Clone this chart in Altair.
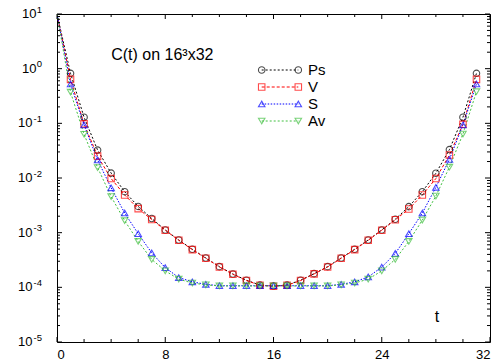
import altair as alt
import pandas as pd

# ---------------- data ----------------
t = list(range(32))
ps = [10, 0.822, 0.129, 0.0324, 0.0123, 0.00562, 0.00302, 0.00182, 0.00112, 7.35e-4,
      4.97e-4, 3.44e-4, 2.39e-4, 1.75e-4, 1.35e-4, 1.10e-4, 1.06e-4, 1.10e-4, 1.35e-4, 1.78e-4,
      2.39e-4, 3.44e-4, 4.97e-4, 7.35e-4, 1.12e-3, 1.76e-3, 2.99e-3, 5.62e-3, 0.0122, 0.0331,
      0.129, 0.822]
v = [10, 0.638, 0.0977, 0.0251, 0.00977, 0.0049, 0.00275, 0.00174, 0.00111, 7.25e-4,
     4.9e-4, 3.4e-4, 2.36e-4, 1.73e-4, 1.33e-4, 1.09e-4, 1.05e-4, 1.09e-4, 1.33e-4, 1.76e-4,
     2.36e-4, 3.4e-4, 4.9e-4, 7.25e-4, 1.11e-3, 1.72e-3, 2.71e-3, 4.9e-3, 9.77e-3, 0.0263,
     0.0959, 0.638]
s = [10, 0.525, 0.0933, 0.0214, 0.00661, 0.00229, 9.55e-4, 4.27e-4, 2.29e-4, 1.51e-4,
     1.26e-4, 1.135e-4, 1.07e-4, 1.07e-4, 1.07e-4, 1.07e-4, 1.07e-4, 1.07e-4, 1.07e-4, 1.07e-4,
     1.07e-4, 1.135e-4, 1.26e-4, 1.55e-4, 2.34e-4, 4.17e-4, 9.55e-4, 2.29e-3, 6.76e-3, 0.0219,
     0.0933, 0.525]
av = [10, 0.372, 0.0631, 0.0155, 0.00457, 0.00166, 6.92e-4, 3.24e-4, 2.0e-4, 1.41e-4,
      1.20e-4, 1.11e-4, 1.06e-4, 1.06e-4, 1.06e-4, 1.06e-4, 1.06e-4, 1.06e-4, 1.06e-4, 1.06e-4,
      1.06e-4, 1.11e-4, 1.20e-4, 1.41e-4, 2.0e-4, 3.24e-4, 6.92e-4, 1.70e-3, 4.68e-3, 0.0158,
      0.0638, 0.38]

series_names = ["Ps", "V", "S", "Av"]
x_major = [0, 8, 16, 24, 32]
x_minor = [2, 4, 6, 10, 12, 14, 18, 20, 22, 26, 28, 30]
y_major = [10, 1, 0.1, 0.01, 0.001, 1e-4, 1e-5]
y_exps = ["1", "0", "-1", "-2", "-3", "-4", "-5"]
y_minor = [m * 10.0 ** k for k in range(-5, 1) for m in range(2, 10)]
title_text = "C(t) on 16³x32"
x_label = "t"

# ---------------- styles ----------------
colors = ["#000000", "#ff0000", "#0000ff", "#40c040"]
shapes = ["circle", "square", "triangle-up", "triangle-down"]
dashes = [[2, 2], [3, 2], [1.5, 1.5], [2, 2]]
FONT = "Liberation Sans"
W, H = 433, 328

rows = []
for name, vals in zip(series_names, [ps, v, s, av]):
    for ti, val in zip(t, vals):
        rows.append({"series": name, "t": ti, "C": val})
df = pd.DataFrame(rows)

xs = alt.Scale(domain=[0, 32], nice=False, zero=False)
ys = alt.Scale(type="log", domain=[1e-5, 10], nice=False)
cs = alt.Scale(domain=series_names, range=colors)

lines = alt.Chart(df).mark_line(clip=True, strokeWidth=1).encode(
    x=alt.X("t:Q", scale=xs, title=None,
            axis=alt.Axis(values=x_major, ticks=False, tickSize=0, domain=False, grid=False,
                          labelFontSize=13, labelPadding=6, labelFont=FONT, labelColor="#000")),
    y=alt.Y("C:Q", scale=ys, axis=None),
    color=alt.Color("series:N", scale=cs, legend=None),
    strokeDash=alt.StrokeDash("series:N", scale=alt.Scale(domain=series_names, range=dashes), legend=None),
    order="t:Q",
)

points = alt.Chart(df).transform_filter("datum.t > 0").mark_point(
    filled=False, size=42, strokeWidth=1.1, clip=True
).encode(
    x=alt.X("t:Q", scale=xs, title=None),
    y=alt.Y("C:Q", scale=ys, axis=None),
    color=alt.Color("series:N", scale=cs, legend=None),
    shape=alt.Shape("series:N", scale=alt.Scale(domain=series_names, range=shapes), legend=None),
)

layers = [lines, points]

# inward ticks on x (bottom and top)
for vals, ln in [(x_major, 5), (x_minor, 3)]:
    d = pd.DataFrame({"t": vals})
    layers.append(alt.Chart(d).mark_rule(color="#000", strokeWidth=1).encode(
        x=alt.X("t:Q", scale=xs, title=None), y=alt.value(H), y2=alt.value(H - ln)))
    layers.append(alt.Chart(d).mark_rule(color="#000", strokeWidth=1).encode(
        x=alt.X("t:Q", scale=xs, title=None), y=alt.value(0), y2=alt.value(ln)))

# inward ticks on y (left and right)
for vals, ln in [(y_major, 5), (y_minor, 3)]:
    d = pd.DataFrame({"C": vals})
    layers.append(alt.Chart(d).mark_rule(color="#000", strokeWidth=1).encode(
        y=alt.Y("C:Q", scale=ys, axis=None), x=alt.value(0), x2=alt.value(ln)))
    layers.append(alt.Chart(d).mark_rule(color="#000", strokeWidth=1).encode(
        y=alt.Y("C:Q", scale=ys, axis=None), x=alt.value(W), x2=alt.value(W - ln)))

# y tick labels: "10" with exponent
ylab = pd.DataFrame({"C": y_major, "exp": y_exps})
layers.append(alt.Chart(ylab).transform_filter("datum.C >= 1").mark_text(
    align="right", baseline="middle", fontSize=13, font=FONT, color="#000").encode(
    y=alt.Y("C:Q", scale=ys, axis=None), x=alt.value(-20.5), text=alt.value("10")))
layers.append(alt.Chart(ylab).transform_filter("datum.C < 1").mark_text(
    align="right", baseline="middle", fontSize=13, font=FONT, color="#000").encode(
    y=alt.Y("C:Q", scale=ys, axis=None), x=alt.value(-24.5), text=alt.value("10")))
layers.append(alt.Chart(ylab).mark_text(
    align="right", baseline="alphabetic", fontSize=9.5, font=FONT, color="#000", dy=-1.5).encode(
    y=alt.Y("C:Q", scale=ys, axis=None), x=alt.value(-15), text="exp:N"))

# legend
one = pd.DataFrame({"k": [0]})
for i, name in enumerate(series_names):
    ly = 56 + 17 * i
    layers.append(alt.Chart(one).mark_rule(color=colors[i], strokeDash=dashes[i], strokeWidth=1).encode(
        x=alt.value(204.7), x2=alt.value(241.3), y=alt.value(ly)))
    for lx in (204.7, 241.3):
        layers.append(alt.Chart(one).mark_point(shape=shapes[i], color=colors[i], filled=False,
                                                size=42, strokeWidth=1.1).encode(
            x=alt.value(lx), y=alt.value(ly)))
    layers.append(alt.Chart(one).mark_text(align="left", baseline="middle", fontSize=15, font=FONT,
                                           color="#000").encode(
        x=alt.value(251), y=alt.value(ly), text=alt.value(name)))

# annotations
layers.append(alt.Chart(one).mark_text(align="center", baseline="alphabetic", fontSize=16, font=FONT,
                                       color="#000").encode(
    x=alt.value(105.3), y=alt.value(45.5), text=alt.value(title_text)))
layers.append(alt.Chart(one).mark_text(align="center", baseline="alphabetic", fontSize=16, font=FONT,
                                       color="#000").encode(
    x=alt.value(380), y=alt.value(308), text=alt.value(x_label)))

chart = alt.layer(*layers).properties(
    width=W, height=H,
    autosize=alt.AutoSizeParams(type="none"),
    padding={"left": 57, "top": 14, "right": 10, "bottom": 18},
    background="white",
).configure_view(stroke="#000", strokeWidth=1)

chart.save("out.html", embed_options={"renderer": "svg", "actions": False})
